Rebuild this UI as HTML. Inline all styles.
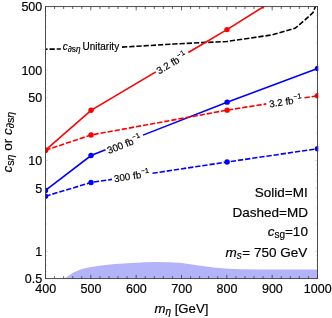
<!DOCTYPE html>
<html><head><meta charset="utf-8"><title>plot</title>
<style>
html,body{margin:0;padding:0;background:#fff;}
body{width:332px;height:318px;overflow:hidden;}
svg{display:block;will-change:transform;}
text{font-family:"Liberation Sans",sans-serif;fill:#000;stroke:#000;stroke-width:0.18px;}
.i{font-style:italic;}
</style></head><body>
<svg width="332" height="318" viewBox="0 0 332 318">
<rect x="0" y="0" width="332" height="318" fill="#fff"/>
<defs><clipPath id="cp"><rect x="45.5" y="6.6" width="272.8" height="272"/></clipPath></defs>

<path d="M64.6 278.6 L69 275.4 L73 272.7 L79.1 269.9 L85 268.3 L91.1 267 L103.2 265.3 L115.2 263.9 L132.1 263 L145 262.3 L155 262.1 L168 262.2 L180 262.7 L192 264.6 L204 266.3 L216 267.8 L228.2 268.7 L240 269.2 L260 269.4 L317.5 269.5 L317.5 278.6 Z" fill="#b3b3fa"/>
<path d="M45.50 278.6 v-3.8 M45.50 6.6 v3.8 M54.57 278.6 v-2.4 M54.57 6.6 v2.4 M63.63 278.6 v-2.4 M63.63 6.6 v2.4 M72.70 278.6 v-2.4 M72.70 6.6 v2.4 M81.77 278.6 v-2.4 M81.77 6.6 v2.4 M90.83 278.6 v-3.8 M90.83 6.6 v3.8 M99.90 278.6 v-2.4 M99.90 6.6 v2.4 M108.97 278.6 v-2.4 M108.97 6.6 v2.4 M118.03 278.6 v-2.4 M118.03 6.6 v2.4 M127.10 278.6 v-2.4 M127.10 6.6 v2.4 M136.17 278.6 v-3.8 M136.17 6.6 v3.8 M145.23 278.6 v-2.4 M145.23 6.6 v2.4 M154.30 278.6 v-2.4 M154.30 6.6 v2.4 M163.37 278.6 v-2.4 M163.37 6.6 v2.4 M172.43 278.6 v-2.4 M172.43 6.6 v2.4 M181.50 278.6 v-3.8 M181.50 6.6 v3.8 M190.57 278.6 v-2.4 M190.57 6.6 v2.4 M199.63 278.6 v-2.4 M199.63 6.6 v2.4 M208.70 278.6 v-2.4 M208.70 6.6 v2.4 M217.77 278.6 v-2.4 M217.77 6.6 v2.4 M226.83 278.6 v-3.8 M226.83 6.6 v3.8 M235.90 278.6 v-2.4 M235.90 6.6 v2.4 M244.97 278.6 v-2.4 M244.97 6.6 v2.4 M254.03 278.6 v-2.4 M254.03 6.6 v2.4 M263.10 278.6 v-2.4 M263.10 6.6 v2.4 M272.17 278.6 v-3.8 M272.17 6.6 v3.8 M281.23 278.6 v-2.4 M281.23 6.6 v2.4 M290.30 278.6 v-2.4 M290.30 6.6 v2.4 M299.37 278.6 v-2.4 M299.37 6.6 v2.4 M308.43 278.6 v-2.4 M308.43 6.6 v2.4 M317.50 278.6 v-3.8 M317.50 6.6 v3.8" stroke="#3a3a3a" stroke-width="0.8" fill="none"/>
<path d="M45.5 278.60 h2.8 M317.5 278.60 h-2.8 M45.5 271.42 h1.5 M317.5 271.42 h-1.5 M45.5 265.35 h1.5 M317.5 265.35 h-1.5 M45.5 260.09 h1.5 M317.5 260.09 h-1.5 M45.5 255.46 h1.5 M317.5 255.46 h-1.5 M45.5 251.31 h2.8 M317.5 251.31 h-2.8 M45.5 224.01 h1.5 M317.5 224.01 h-1.5 M45.5 208.05 h1.5 M317.5 208.05 h-1.5 M45.5 196.72 h1.5 M317.5 196.72 h-1.5 M45.5 187.93 h2.8 M317.5 187.93 h-2.8 M45.5 180.75 h1.5 M317.5 180.75 h-1.5 M45.5 174.68 h1.5 M317.5 174.68 h-1.5 M45.5 169.43 h1.5 M317.5 169.43 h-1.5 M45.5 164.79 h1.5 M317.5 164.79 h-1.5 M45.5 160.64 h2.8 M317.5 160.64 h-2.8 M45.5 133.35 h1.5 M317.5 133.35 h-1.5 M45.5 117.38 h1.5 M317.5 117.38 h-1.5 M45.5 106.05 h1.5 M317.5 106.05 h-1.5 M45.5 97.27 h2.8 M317.5 97.27 h-2.8 M45.5 90.09 h1.5 M317.5 90.09 h-1.5 M45.5 84.02 h1.5 M317.5 84.02 h-1.5 M45.5 78.76 h1.5 M317.5 78.76 h-1.5 M45.5 74.12 h1.5 M317.5 74.12 h-1.5 M45.5 69.97 h2.8 M317.5 69.97 h-2.8 M45.5 42.68 h1.5 M317.5 42.68 h-1.5 M45.5 26.71 h1.5 M317.5 26.71 h-1.5 M45.5 15.39 h1.5 M317.5 15.39 h-1.5 M45.5 6.60 h2.8 M317.5 6.60 h-2.8" stroke="#a8a8a8" stroke-width="0.4" fill="none"/>
<g clip-path="url(#cp)" fill="none" stroke-width="1.6">
<path d="M45.5 49.2 L60.9 49.0" stroke="#000" stroke-dashoffset="3.2" stroke-dasharray="5.3 1.9"/>
<path d="M122 47.1 L150 45.5 L174 44 L200 42.7 L226.8 41.5 L250 38.1 L272 34.9 L295 28.3 L305 19.9 L313 12.6 L316 5" stroke="#000" stroke-dasharray="5.3 1.9"/>
<path d="M45.5 150.2 L91.03 110.3 L155.8 71.8497 M188.3 52.5562 L226.97 29.6 L317.5 -27.1" stroke="#f00"/>
<path d="M45.5 190.4 L91.03 155.5 L105.5 149.827 M143 135.124 L227.1 102.15 L317.5 68.5" stroke="#00f"/>
<path d="M45.5 150.2 L91.03 135 L227.1 110.15 L266.3 103.906" stroke="#f00" stroke-dasharray="5.3 1.9"/>
<path d="M304.5 97.8208 L317.5 95.75" stroke="#f00" stroke-dasharray="5.3 1.9"/>
<path d="M45.5 196.2 L91.03 182.5 L112 179.341" stroke="#00f" stroke-dasharray="5.3 1.9"/>
<path d="M152.5 173.239 L227.1 162 L317.5 148.75" stroke="#00f" stroke-dasharray="5.3 1.9"/>
<circle cx="45.5" cy="150.2" r="2.7" fill="#f00" stroke="none"/>
<circle cx="91.03" cy="110.3" r="2.7" fill="#f00" stroke="none"/>
<circle cx="226.97" cy="29.6" r="2.7" fill="#f00" stroke="none"/>
<circle cx="45.5" cy="150.2" r="2.7" fill="#f00" stroke="none"/>
<circle cx="91.03" cy="135" r="2.7" fill="#f00" stroke="none"/>
<circle cx="227.1" cy="110.15" r="2.7" fill="#f00" stroke="none"/>
<circle cx="317.5" cy="95.75" r="2.7" fill="#f00" stroke="none"/>
<circle cx="45.5" cy="190.4" r="2.7" fill="#00f" stroke="none"/>
<circle cx="91.03" cy="155.5" r="2.7" fill="#00f" stroke="none"/>
<circle cx="227.1" cy="102.15" r="2.7" fill="#00f" stroke="none"/>
<circle cx="317.5" cy="68.5" r="2.7" fill="#00f" stroke="none"/>
<circle cx="45.5" cy="196.2" r="2.7" fill="#00f" stroke="none"/>
<circle cx="91.03" cy="182.5" r="2.7" fill="#00f" stroke="none"/>
<circle cx="227.1" cy="162" r="2.7" fill="#00f" stroke="none"/>
<circle cx="317.5" cy="148.75" r="2.7" fill="#00f" stroke="none"/>
</g>
<rect x="45.5" y="6.6" width="272" height="272" fill="none" stroke="#3a3a3a" stroke-width="0.9"/>
<text transform="translate(45.70 293.4) scale(0.95 1)" font-size="13.2" text-anchor="middle">400</text>
<text transform="translate(91.03 293.4) scale(0.95 1)" font-size="13.2" text-anchor="middle">500</text>
<text transform="translate(136.37 293.4) scale(0.95 1)" font-size="13.2" text-anchor="middle">600</text>
<text transform="translate(181.70 293.4) scale(0.95 1)" font-size="13.2" text-anchor="middle">700</text>
<text transform="translate(227.03 293.4) scale(0.95 1)" font-size="13.2" text-anchor="middle">800</text>
<text transform="translate(272.37 293.4) scale(0.95 1)" font-size="13.2" text-anchor="middle">900</text>
<text transform="translate(317.70 293.4) scale(0.95 1)" font-size="13.2" text-anchor="middle">1000</text>
<text transform="translate(42.3 11.40) scale(0.95 1)" font-size="13.2" text-anchor="end">500</text>
<text transform="translate(42.3 74.77) scale(0.95 1)" font-size="13.2" text-anchor="end">100</text>
<text transform="translate(42.3 102.07) scale(0.95 1)" font-size="13.2" text-anchor="end">50</text>
<text transform="translate(42.3 165.44) scale(0.95 1)" font-size="13.2" text-anchor="end">10</text>
<text transform="translate(42.3 192.73) scale(0.95 1)" font-size="13.2" text-anchor="end">5</text>
<text transform="translate(42.3 256.11) scale(0.95 1)" font-size="13.2" text-anchor="end">1</text>
<text transform="translate(42.3 283.40) scale(0.95 1)" font-size="13.2" text-anchor="end">0.5</text>
<text x="181.4" y="312.5" font-size="13.2" text-anchor="middle"><tspan class="i">m</tspan><tspan class="i" font-size="10" dy="2.2">η</tspan><tspan dy="-2.2"> [GeV]</tspan></text>
<text transform="translate(11.6 142.2) rotate(-90)" font-size="13.5" text-anchor="middle"><tspan class="i">c</tspan><tspan font-size="10.7" dy="2.6">s<tspan class="i">η</tspan></tspan><tspan dy="-2.6"> or </tspan><tspan class="i">c</tspan><tspan font-size="10.7" dy="2.6">∂s<tspan class="i">η</tspan></tspan></text>
<text x="307.7" y="197.1" font-size="13.5" text-anchor="end">Solid=MI</text>
<text x="307.9" y="216.6" font-size="13.5" text-anchor="end">Dashed=MD</text>
<text x="307.9" y="235.5" font-size="13.5" text-anchor="end"><tspan class="i">c</tspan><tspan font-size="10" dy="2.2">sg</tspan><tspan dy="-2.2">=10</tspan></text>
<text x="307.3" y="256.6" font-size="13.5" text-anchor="end"><tspan class="i">m</tspan><tspan class="i" font-size="10" dy="2.2">s</tspan><tspan dy="-2.2" dx="0.6">= 750 GeV</tspan></text>
<text transform="translate(171.5 63) rotate(-30.6)" font-size="9.85" text-anchor="middle" y="3.5">3.2 fb<tspan font-size="5.8" dy="-4.9" dx="0.6">−</tspan><tspan font-size="7.2" dy="0.6" dx="0.5">1</tspan></text>
<text transform="translate(124.2 144.3) rotate(-21.5)" font-size="9.85" text-anchor="middle" y="3.5">300 fb<tspan font-size="5.8" dy="-4.9" dx="0.6">−</tspan><tspan font-size="7.2" dy="0.6" dx="0.5">1</tspan></text>
<text transform="translate(285.5 101.45) rotate(-8.9)" font-size="9.85" text-anchor="middle" y="3.5">3.2 fb<tspan font-size="5.8" dy="-4.9" dx="0.6">−</tspan><tspan font-size="7.2" dy="0.6" dx="0.5">1</tspan></text>
<text transform="translate(131.7 176) rotate(-8.6)" font-size="9.85" text-anchor="middle" y="3.5">300 fb<tspan font-size="5.8" dy="-4.9" dx="0.6">−</tspan><tspan font-size="7.2" dy="0.6" dx="0.5">1</tspan></text>
<text x="62.8" y="50.2" font-size="10"><tspan class="i">c</tspan><tspan font-size="8.2" dy="1.9">∂s<tspan class="i">η</tspan></tspan><tspan dy="-1.9" dx="-0.8"> Unitarity</tspan></text>
</svg></body></html>
